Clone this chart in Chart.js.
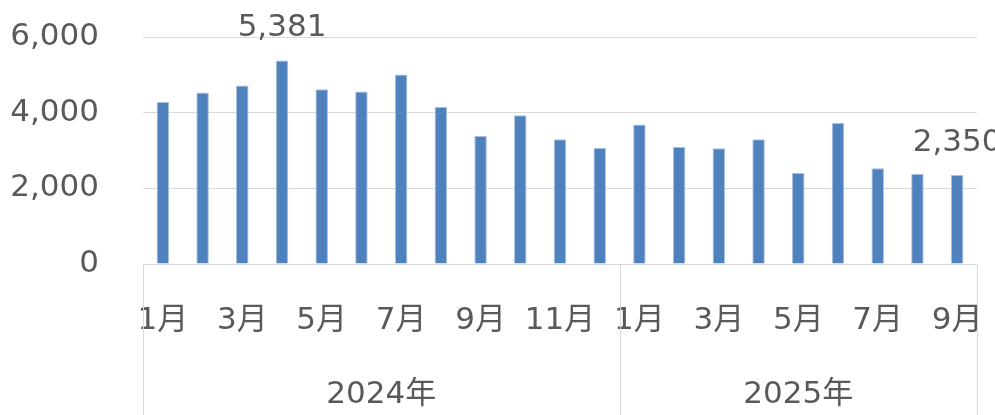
<!DOCTYPE html>
<html>
<head>
<meta charset="utf-8">
<script src="https://cdn.jsdelivr.net/npm/chart.js@4"></script>
<style>
  body { margin: 0; background: #fff; }
  #wrap { width: 995px; height: 415px; }
</style>
</head>
<body>
<div id="wrap"><canvas id="salesChart"></canvas></div>
<script>
const months = ['1月', '2月', '3月', '4月', '5月', '6月', '7月', '8月', '9月', '10月', '11月', '12月',
                '1月', '2月', '3月', '4月', '5月', '6月', '7月', '8月', '9月'];
const years = ['2024年', '2025年'];
const yearSizes = [12, 9];
const values = [4280, 4530, 4720, 5381, 4620, 4560, 5010, 4150, 3380, 3935, 3300, 3065,
                3690, 3090, 3060, 3295, 2405, 3730, 2530, 2380, 2350];
const labelledBars = [3, 20];
const yTicks = [0, 2000, 4000, 6000];

const FONT = '"DejaVu Sans", "Noto Sans CJK JP", sans-serif';
const TEXT = '#595959';
const LINE = '#d9d9d9';

// year row + group separators under the month labels
const yearAxis = {
  id: 'yearAxis',
  afterDraw(chart) {
    const { ctx, chartArea, scales: { x } } = chart;
    const h = chart.height;
    ctx.save();
    ctx.strokeStyle = LINE;
    ctx.lineWidth = 1;
    ctx.beginPath();
    ctx.moveTo(chartArea.left, chartArea.bottom + 0.5);
    ctx.lineTo(chartArea.right, chartArea.bottom + 0.5);
    let start = 0;
    const edges = [chartArea.left];
    yearSizes.forEach((n) => {
      start += n;
      const edge = start >= months.length
        ? chartArea.right
        : (x.getPixelForValue(start - 1) + x.getPixelForValue(start)) / 2;
      edges.push(edge);
    });
    edges.forEach((ex) => {
      const px = Math.round(ex) + 0.5;
      ctx.moveTo(px, chartArea.bottom);
      ctx.lineTo(px, h);
    });
    ctx.stroke();

    ctx.fillStyle = TEXT;
    ctx.font = '31px ' + FONT;
    ctx.textAlign = 'center';
    ctx.textBaseline = 'middle';
    years.forEach((y, i) => {
      ctx.fillText(y, (edges[i] + edges[i + 1]) / 2, 395);
    });

    // value labels on selected bars
    const meta = chart.getDatasetMeta(0);
    ctx.textBaseline = 'bottom';
    labelledBars.forEach((i) => {
      const bar = meta.data[i];
      ctx.fillText(values[i].toLocaleString('en-US'), bar.x, bar.y - 17);
    });
    ctx.restore();
  }
};

const ctx = document.getElementById('salesChart').getContext('2d');
new Chart(ctx, {
  type: 'bar',
  data: {
    labels: months,
    datasets: [
      {
        data: values,
        backgroundColor: '#4f81bd',
        borderColor: '#a9c1df',
        borderWidth: 1,
        barPercentage: 0.315,
        categoryPercentage: 1,
      },
    ],
  },
  options: {
    responsive: true,
    maintainAspectRatio: false,
    animation: false,
    layout: { padding: { top: 37, right: 18, left: 0, bottom: 0 } },
    plugins: {
      legend: { display: false },
      tooltip: { enabled: false },
    },
    scales: {
      x: {
        grid: { display: false, drawTicks: false },
        border: { display: false },
        ticks: {
          autoSkip: false,
          maxRotation: 0,
          padding: 38,
          color: TEXT,
          font: { family: FONT, size: 31 },
          callback: (v, i) => (i % 2 === 0 ? months[i] : ''),
        },
        afterFit: (scale) => {
          scale.height = 151;
          scale.paddingLeft = 0;
          scale.paddingRight = 0;
        },
      },
      y: {
        min: 0,
        max: 6000,
        afterBuildTicks: (scale) => { scale.ticks = yTicks.map((v) => ({ value: v })); },
        grid: { color: LINE, lineWidth: 1, drawTicks: false },
        border: { display: false },
        ticks: {
          padding: 44,
          color: TEXT,
          font: { family: FONT, size: 31 },
          callback: (v) => v.toLocaleString('en-US'),
        },
        afterFit: (scale) => {
          scale.width = 143;
          scale.paddingTop = 0;
          scale.paddingBottom = 0;
        },
      },
    },
  },
  plugins: [yearAxis],
});
</script>
</body>
</html>
